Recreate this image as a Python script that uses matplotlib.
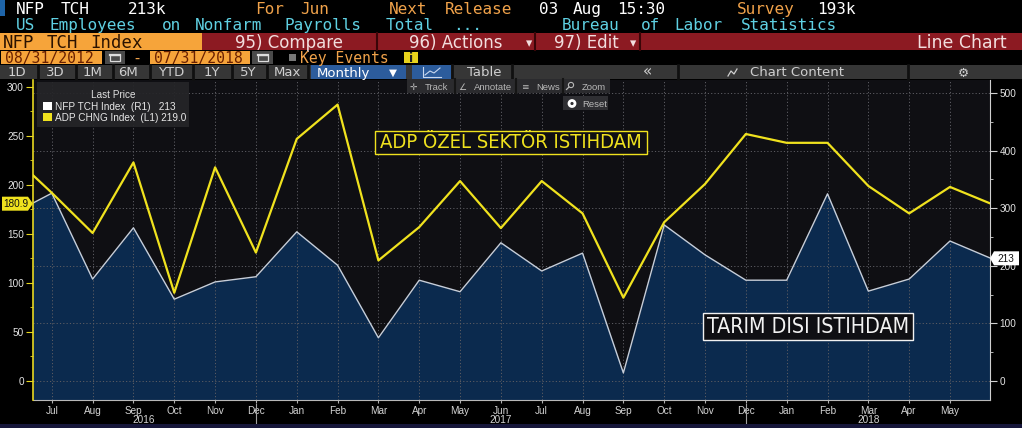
import matplotlib
matplotlib.use('Agg')
import matplotlib.pyplot as plt
from matplotlib.patches import Rectangle, Polygon, Circle
from matplotlib.lines import Line2D
from matplotlib.ticker import MultipleLocator, FixedLocator
from matplotlib import font_manager as fm
from matplotlib.font_manager import FontProperties
import matplotlib.transforms as mtrans

# ---------------- data ----------------
months = ["Jun", "Jul", "Aug", "Sep", "Oct", "Nov", "Dec", "Jan", "Feb", "Mar", "Apr", "May",
          "Jun", "Jul", "Aug", "Sep", "Oct", "Nov", "Dec", "Jan", "Feb", "Mar", "Apr", "May", "Jun"]
adp_chng = [231, 192, 151, 223, 90, 218, 131, 247, 282, 123, 157, 204,
            156, 204, 171, 85, 162, 201, 252, 243, 243, 199, 171, 198, 180.9]
nfp_tch = [289, 326, 177, 266, 142, 172, 181, 259, 201, 75, 175, 155,
           240, 191, 222, 14, 271, 219, 175, 175, 325, 156, 177, 243, 213]
year_labels = ["2016", "2017", "2018"]
year_label_pos = [3.25, 12, 21]
year_sep_pos = [6, 18]
left_ticks = [0, 50, 100, 150, 200, 250, 300]
right_ticks = [0, 100, 200, 300, 400, 500]
legend_title = "Last Price"
legend_nfp = "NFP TCH Index  (R1)   213"
legend_adp = "ADP CHNG Index  (L1) 219.0"

W, H = 1022, 428
x = list(range(len(months)))

fig = plt.figure(figsize=(W / 100, H / 100), dpi=100, facecolor='black')

MONO = 'DejaVu Sans Mono'
SANS = 'DejaVu Sans'
LIB = 'Liberation Sans'
fonts = fm.fontManager.ttflist
names = {f.name for f in fonts}

# candidate fonts for the condensed annotation lettering
cands = []
if 'Liberation Sans Narrow' in names:
    cands.append(FontProperties(family='Liberation Sans Narrow'))
if any(f.name == 'DejaVu Sans' and f.stretch == 'condensed' for f in fonts):
    cands.append(FontProperties(family='DejaVu Sans', stretch='condensed'))
cands.append(FontProperties(family='Roboto'))
cands.append(FontProperties(family=LIB))

ID = mtrans.IdentityTransform()


def T(px, py, s, color, size, family=SANS, ha='left', va='baseline', z=10, **kw):
    return fig.text(px / W, 1 - py / H, s, color=color, fontsize=size, family=family,
                    ha=ha, va=va, zorder=z, **kw)


def R(x0, y0, x1, y1, color, z=5, **kw):
    r = Rectangle((x0 / W, 1 - y1 / H), (x1 - x0) / W, (y1 - y0) / H,
                  transform=fig.transFigure, facecolor=color, edgecolor='none', zorder=z, **kw)
    fig.add_artist(r)
    return r


def L(x0, y0, x1, y1, color, lw=1, z=6):
    fig.add_artist(Line2D([x0 / W, x1 / W], [1 - y0 / H, 1 - y1 / H], color=color, lw=lw,
                          transform=fig.transFigure, zorder=z))


def words(x0, py, s, color, size, pitch=11.2):
    # place each word of a monospace line at its own column
    col = 0
    for w in s.split(' '):
        if w:
            T(x0 + col * pitch, py, w, color, size, MONO)
        col += len(w) + 1


# ---------------- header ----------------
ORANGE_T = '#f0a24a'
CYAN = '#5fd0e2'
HS = 11.5
R(0, 0, 5, 16, '#1e64a8')
words(16, 14, "NFP TCH", 'white', HS)
words(128, 14, "213k", 'white', HS)
words(255, 14, "For Jun", ORANGE_T, HS)
words(389, 14, "Next Release", ORANGE_T, HS)
words(539, 14, "03 Aug 15:30", 'white', HS)
words(737, 14, "Survey", ORANGE_T, HS)
words(817, 14, "193k", 'white', HS)
words(16, 30, "US Employees on Nonfarm Payrolls Total ...", CYAN, HS)
words(562, 30, "Bureau of Labor Statistics", CYAN, HS)

# row 3
R(0, 33, 202, 50, '#f6a43a')
R(202, 33, W, 50, '#8c1a22')
for sx in (377, 535, 640):
    L(sx, 33, sx, 50, '#3a0508', lw=1.5)
words(3, 47.5, "NFP TCH Index", '#2a1200', 12.5, pitch=10.9)
RB = '#f2dede'
T(235, 47.5, "95) Compare", RB, 12, SANS)
T(409, 47.5, "96) Actions", RB, 12, SANS)
T(529, 47.5, "\u25be", RB, 9, SANS, ha='center')
T(554, 47.5, "97) Edit", RB, 12, SANS)
T(633, 47.5, "\u25be", RB, 9, SANS, ha='center')
T(1007, 47.5, "Line Chart", RB, 12.5, SANS, ha='right')

# row 4
R(1, 51, 102, 64, '#f6a43a')
R(150, 51, 250, 64, '#f6a43a')
for cx0, cx1 in ((105, 125), (252, 273)):
    R(cx0, 51, cx1, 64, '#4a4a4a')
    cx = (cx0 + cx1) / 2
    fig.add_artist(Rectangle(((cx - 5) / W, 1 - 61 / H), 10 / W, 6 / H, transform=fig.transFigure,
                             facecolor='none', edgecolor='#dddddd', lw=0.9, zorder=7))
    L(cx - 5, 55, cx + 5, 55, '#dddddd', lw=1.6, z=7)
T(5, 63, "08/31/2012", '#6a2000', 10.6, MONO)
T(154, 63, "07/31/2018", '#6a2000', 10.6, MONO)
T(137, 63, "-", ORANGE_T, 11, MONO, ha='center')
R(289, 54, 296, 61, '#777777')
T(300, 63, "Key Events", ORANGE_T, 10.6, MONO)
R(404, 52, 418, 63, '#e8d31c')
T(411, 62, "i", '#222222', 9, SANS, ha='center', weight='bold')

# row 5 (buttons)
R(0, 65, W, 79, '#363636')
for sx in (38, 76, 113, 150, 193, 232, 267, 308, 452, 512, 678, 908):
    L(sx, 65, sx, 79, '#101010', lw=2, z=6)
R(311, 65, 406, 79, '#2c5c9c', z=6)
R(412, 65, 451, 79, '#2c5c9c', z=6)
BT = '#cfcfcf'
for lbl, cx in (("1D", 17), ("3D", 55), ("1M", 93), ("6M", 128), ("YTD", 171), ("1Y", 212),
                ("5Y", 248), ("Max", 287), ("Table", 484)):
    T(cx, 76.5, lbl, BT, 9.5, SANS, ha='center')
T(317, 76.5, "Monthly", 'white', 9.5, SANS)
T(393, 76, "\u25bc", 'white', 7.5, SANS, ha='center')
fig.add_artist(Line2D([423 / W, 423 / W, 441 / W], [1 - 67 / H, 1 - 77 / H, 1 - 77 / H],
                      color='#c8d8f0', lw=0.8, transform=fig.transFigure, zorder=8))
fig.add_artist(Line2D([425 / W, 430 / W, 434 / W, 440 / W], [1 - 75 / H, 1 - 71 / H, 1 - 73 / H, 1 - 68 / H],
                      color='#c8d8f0', lw=0.8, transform=fig.transFigure, zorder=8))
T(648, 76.5, "\u00ab", BT, 11, SANS, ha='center')
fig.add_artist(Line2D([(728 + i * 3) / W for i in range(4)], [1 - 76 / H, 1 - 71 / H, 1 - 74 / H, 1 - 69 / H],
                      color=BT, lw=0.9, transform=fig.transFigure, zorder=8))
T(750, 76.5, "Chart Content", BT, 9.5, SANS)
T(963, 76.5, "\u2699", BT, 9, SANS, ha='center')

# bottom strip
R(0, 424, W, 428, '#16163a', z=1)

# ---------------- chart ----------------
ax = fig.add_axes([33 / W, 1 - 400 / H, 957 / W, 320 / H])   # NFP, right scale
axl = ax.twinx()                                               # ADP, left scale
ax.yaxis.tick_right()
ax.yaxis.set_label_position('right')
axl.yaxis.tick_left()
axl.yaxis.set_label_position('left')

ax.set_facecolor('#0f0f13')
ax.set_xlim(0.54, 23.98)
ax.set_ylim(-33.0, 522.6)
axl.set_ylim(-19.4, 307.1)

ax.fill_between(x, nfp_tch, -60, color='#0b2a4e', lw=0, zorder=1)
ax.plot(x, nfp_tch, color='#c6ceda', lw=1.0, zorder=3)
axl.plot(x, adp_chng, color='#f0e21e', lw=1.6, zorder=3)

# grid
ax.set_xticks(range(1, 24))
ax.set_xticklabels(months[1:24])
ax.yaxis.set_major_locator(FixedLocator(right_ticks))
ax.yaxis.set_minor_locator(MultipleLocator(50))
ax.grid(True, which='major', color='#5c5c62', lw=0.7, linestyle=(0, (1.2, 2.2)))
axl.yaxis.set_major_locator(FixedLocator(left_ticks))
axl.yaxis.set_minor_locator(MultipleLocator(25))

for sp in ('top', 'left'):
    ax.spines[sp].set_visible(False)
ax.spines['right'].set_color('#d0d0d0')
ax.spines['bottom'].set_color('#b8b8b8')
for sp in ('top', 'right', 'bottom'):
    axl.spines[sp].set_visible(False)
axl.spines['left'].set_color('#e8d820')
axl.spines['left'].set_linewidth(1.2)

ax.tick_params(axis='x', colors='#b0b0b0', length=2.5, pad=1.5, labelcolor='#d4d4d4', labelsize=7.2)
ax.tick_params(axis='y', which='major', colors='#d0d0d0', length=5, pad=2, labelcolor='#e4e4e4', labelsize=7.2)
ax.tick_params(axis='y', which='minor', colors='#d0d0d0', length=2.5)
axl.tick_params(axis='y', which='major', colors='#e8d820', length=5, pad=1.5, labelcolor='#e4e4e4', labelsize=7.2)
axl.tick_params(axis='y', which='minor', colors='#e8d820', length=2.5)
for lab in ax.get_xticklabels() + ax.get_yticklabels() + axl.get_yticklabels():
    lab.set_family(LIB)

blend = mtrans.blended_transform_factory(ax.transData, ax.transAxes)
for s, p in zip(year_labels, year_label_pos):
    ax.text(p, -23 / 320, s, transform=blend, ha='center', va='baseline', color='#d4d4d4',
            fontsize=7.2, family=LIB, clip_on=False)
for p in year_sep_pos:
    ax.plot([p, p], [-4 / 320, -28 / 320], transform=blend, color='#a0a0a0', lw=0.8, clip_on=False)

# last value tags
yd = axl.transData.transform((1, adp_chng[-1]))[1]
xl = ax.transAxes.transform((0, 0))[0]
fig.add_artist(Polygon([(2, yd + 7), (xl - 5, yd + 7), (xl, yd), (xl - 5, yd - 7), (2, yd - 7)],
                       closed=True, facecolor='#f0e21e', edgecolor='none', transform=ID, zorder=20))
fig.text(15.5, yd - 0.5, f"{adp_chng[-1]:.1f}", transform=ID, ha='center', va='center',
         color='#111111', fontsize=7.2, family=LIB, zorder=21)
yr = ax.transData.transform((1, nfp_tch[-1]))[1]
xr = ax.transAxes.transform((1, 0))[0]
fig.add_artist(Polygon([(xr, yr), (xr + 4, yr + 7), (1019, yr + 7), (1019, yr - 7), (xr + 4, yr - 7)],
                       closed=True, facecolor='white', edgecolor='none', transform=ID, zorder=20))
fig.text(1006, yr - 0.5, f"{nfp_tch[-1]}", transform=ID, ha='center', va='center',
         color='#111111', fontsize=7.2, family=LIB, zorder=21)

# legend
R(37, 82, 189, 127, '#252528', z=15, alpha=0.92)
T(113, 98, legend_title, '#e0e0e0', 7.2, LIB, ha='center', z=16)
R(43, 102, 52, 110, 'white', z=16)
T(55, 109.5, legend_nfp, '#e8e8e8', 7.2, LIB, z=16)
R(43, 113, 52, 121, '#f0e21e', z=16)
T(55, 121, legend_adp, '#e8e8e8', 7.2, LIB, z=16)

# chart toolbar
R(407, 79, 610, 93, '#2b2b2e', z=15)
for sx in (455, 516, 563):
    L(sx, 79, sx, 93, '#151515', lw=1.5, z=16)
TB = '#b8b8b8'
T(413, 90, "\u271b", TB, 6.5, SANS, ha='center', z=16)
T(425, 90, "Track", TB, 6.8, LIB, z=16)
T(462, 90, "\u2220", TB, 6.5, SANS, ha='center', z=16)
T(474, 90, "Annotate", TB, 6.8, LIB, z=16)
T(525, 90, "\u2261", TB, 6.5, SANS, ha='center', z=16)
T(536, 90, "News", TB, 6.8, LIB, z=16)
# magnifier icon drawn as a shape (no installed glyph)
fig.add_artist(Circle((571, H - 85), 2.6, transform=ID, facecolor='none', edgecolor=TB, lw=0.8, zorder=16))
fig.add_artist(Line2D([568.8, 566.5], [H - 87.2, H - 89.5], transform=ID, color=TB, lw=0.9, zorder=16))
T(582, 90, "Zoom", TB, 6.8, LIB, z=16)
R(563, 96, 608, 110, '#2f2f33', z=15)
fig.add_artist(Circle((572, H - 103.5), 3.0, transform=ID,
                      facecolor='none', edgecolor='white', lw=2, zorder=16))
T(582, 107, "Reset", TB, 6.8, LIB, z=16)

# annotations
renderer = fig.canvas.get_renderer()


def boxed(x0, y0, x1, y1, s, color, target_w, max_size):
    fig.add_artist(Rectangle((x0 / W, 1 - y1 / H), (x1 - x0) / W, (y1 - y0) / H,
                             transform=fig.transFigure, facecolor='#0f0f13', edgecolor=color,
                             lw=1.0, zorder=17))
    best = None
    for fp in cands:
        t = fig.text(0, 0, s, fontproperties=fp, fontsize=max_size)
        w = t.get_window_extent(renderer).width
        t.remove()
        size = min(max_size, max_size * target_w / w)
        if best is None or size > best[1] + 0.05:
            best = (fp, size)
    fp = best[0].copy()
    fp.set_size(best[1])
    fig.text(((x0 + x1) / 2) / W, 1 - ((y0 + y1) / 2 + 0.5) / H, s, fontproperties=fp,
             color=color, ha='center', va='center', zorder=18)


boxed(375, 131, 647, 154, "ADP ÖZEL SEKTÖR ISTIHDAM", '#f0e21e', 264, 15)
boxed(703, 313, 913, 340, "TARIM DISI ISTIHDAM", '#f2f2f2', 202, 15.5)

fig.savefig('out.png', dpi=100, facecolor='black')
